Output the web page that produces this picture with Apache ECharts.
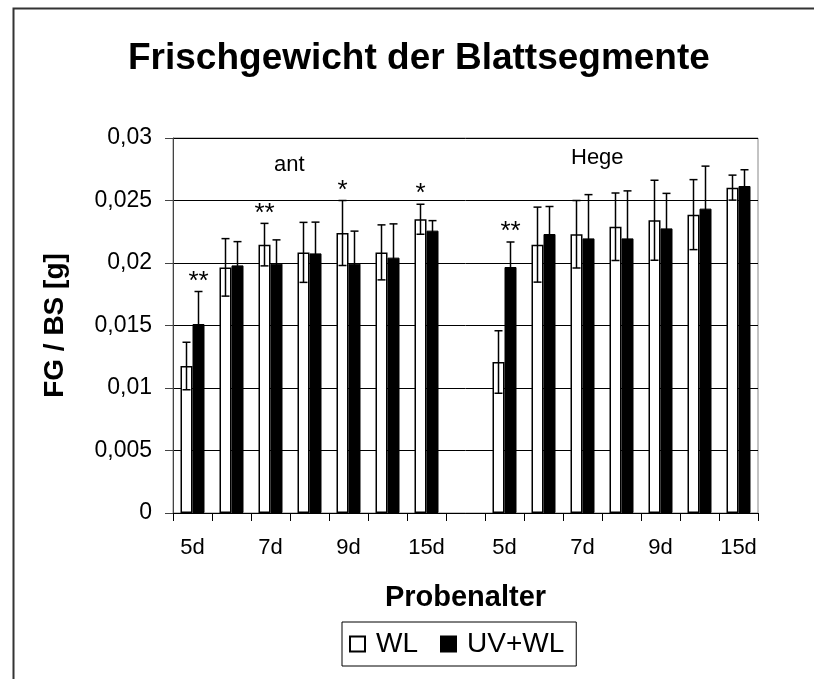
<!DOCTYPE html>
<html>
<head>
<meta charset="utf-8">
<script src="https://cdn.jsdelivr.net/npm/echarts@6/dist/echarts.min.js"></script>
<style>
html,body{margin:0;padding:0;background:#fff;}
#chart{width:814px;height:679px;}
</style>
</head>
<body>
<div id="chart"></div>
<script>
// ---- data ----
const categories = ['ant-1','ant-2','ant-3','ant-4','ant-5','ant-6','ant-7','gap','Hege-1','Hege-2','Hege-3','Hege-4','Hege-5','Hege-6','Hege-7'];
const tickLabels = ['5d','','7d','','9d','','15d','','5d','','7d','','9d','','15d'];
const wlMean = [0.01176, 0.01965, 0.02147, 0.02085, 0.0224, 0.02085, 0.0235, null, 0.01208, 0.02147, 0.0223, 0.0229, 0.02342, 0.02387, 0.02603];
const wlErr  = [0.0019, 0.0023, 0.0017, 0.0024, 0.0026, 0.0022, 0.0012, null, 0.0025, 0.0030, 0.0027, 0.0027, 0.0032, 0.0028, 0.0010];
const uvMean = [0.01512, 0.01981, 0.01995, 0.02077, 0.01995, 0.02043, 0.02259, null, 0.01968, 0.02232, 0.02197, 0.02197, 0.02277, 0.02435, 0.02616];
const uvErr  = [0.0026, 0.0019, 0.0019, 0.0025, 0.0026, 0.0027, 0.0008, null, 0.0020, 0.0022, 0.0035, 0.0038, 0.0028, 0.0034, 0.0013];
const sigWL  = ['', '', '**', '', '*', '', '*', '', '', '', '', '', '', '', ''];
const sigUV  = ['**', '', '', '', '', '', '', '', '**', '', '', '', '', '', ''];
const yTicks = { min: 0, max: 0.03, interval: 0.005 };
const groupNames = ['ant', 'Hege'];

// ---- styling constants ----
const FONT = 'Liberation Sans, Arial, sans-serif';
const BAR_W = 12;

function errSeries(name, mean, err, sig, offset) {
  return {
    type: 'custom',
    name: name + ' err',
    z: 5,
    silent: true,
    data: mean.map((m, i) => [i, m, err[i], sig[i]]),
    encode: { x: 0, y: 1 },
    renderItem: function (params, api) {
      const i = api.value(0);
      const m = api.value(1);
      const e = api.value(2);
      if (m == null || isNaN(m)) return;
      const top = api.coord([i, m + e]);
      const bot = api.coord([i, m - e]);
      const x = top[0] + offset;
      const half = 4;
      const style = { stroke: '#000', lineWidth: 1.5 };
      const children = [
        { type: 'line', shape: { x1: x, y1: top[1], x2: x, y2: bot[1] }, style: style },
        { type: 'line', shape: { x1: x - half, y1: top[1], x2: x + half, y2: top[1] }, style: style },
        { type: 'line', shape: { x1: x - half, y1: bot[1], x2: x + half, y2: bot[1] }, style: style }
      ];
      const s = sig[params.dataIndex];
      if (s) {
        children.push({
          type: 'text',
          style: {
            text: s, x: x, y: top[1] + 3,
            align: 'center', verticalAlign: 'bottom',
            font: '26px ' + FONT, fill: '#000'
          }
        });
      }
      return { type: 'group', children: children };
    }
  };
}

const chart = echarts.init(document.getElementById('chart'), null, { renderer: 'canvas' });
chart.setOption({
  backgroundColor: '#fff',
  animation: false,
  title: {
    text: 'Frischgewicht der Blattsegmente',
    left: 128,
    top: 35,
    padding: [5, 0, 5, 0],
    textStyle: { fontFamily: FONT, fontSize: 37, fontWeight: 'bold', color: '#000' }
  },
  legend: {
    left: 342,
    top: 622,
    padding: [8, 12, 8, 7],
    borderColor: '#000',
    borderWidth: 1,
    itemWidth: 15,
    itemHeight: 15,
    itemGap: 22,
    icon: 'rect',
    data: ['WL', 'UV+WL'],
    textStyle: { fontFamily: FONT, fontSize: 28, color: '#000', padding: [0, 0, 0, 6] }
  },
  grid: {
    left: 173, top: 138, right: 56, bottom: 166,
    show: true, borderColor: '#888', borderWidth: 1, backgroundColor: '#fff'
  },
  xAxis: {
    type: 'category',
    data: categories,
    name: 'Probenalter',
    nameLocation: 'middle',
    nameGap: 70,
    nameTextStyle: { fontFamily: FONT, fontSize: 29, fontWeight: 'bold', color: '#000' },
    axisLine: { lineStyle: { color: '#000', width: 1 } },
    axisTick: { show: true, interval: 0, length: 8, lineStyle: { color: '#000' } },
    axisLabel: {
      interval: 0, margin: 24,
      fontFamily: FONT, fontSize: 22, color: '#000',
      formatter: (v, i) => tickLabels[i]
    },
    splitLine: { show: false }
  },
  yAxis: {
    type: 'value',
    min: yTicks.min, max: yTicks.max, interval: yTicks.interval,
    name: 'FG / BS [g]',
    nameLocation: 'middle',
    nameGap: 104,
    nameMoveOverlap: false,
    nameTextStyle: { fontFamily: FONT, fontSize: 28, fontWeight: 'bold', color: '#000' },
    axisLine: { show: true, lineStyle: { color: '#444', width: 1 } },
    axisTick: { show: true, length: 8, lineStyle: { color: '#444' } },
    axisLabel: {
      margin: 21, fontFamily: FONT, fontSize: 23, color: '#000',
      formatter: v => String(Number(v.toFixed(4))).replace('.', ',')
    },
    splitLine: { show: true, lineStyle: { color: '#000', width: 1 } }
  },
  series: [
    {
      name: 'WL', type: 'bar', data: wlMean, barWidth: BAR_W, barGap: '0%',
      itemStyle: { color: '#fff', borderColor: '#000', borderWidth: 1.5 }
    },
    {
      name: 'UV+WL', type: 'bar', data: uvMean, barWidth: BAR_W, barGap: '0%',
      itemStyle: { color: '#000', borderColor: '#000', borderWidth: 1 }
    },
    errSeries('WL', wlMean, wlErr, sigWL, -BAR_W / 2),
    errSeries('UV+WL', uvMean, uvErr, sigUV, BAR_W / 2)
  ],
  graphic: [
    { type: 'rect', left: 11, top: 6, silent: true,
      shape: { width: 830, height: 700 },
      style: { fill: 'none', stroke: '#333', lineWidth: 2 } },
    { type: 'text', left: 274, top: 154, silent: true,
      style: { text: groupNames[0], font: '22px ' + FONT, fill: '#000' } },
    { type: 'text', left: 571, top: 147, silent: true,
      style: { text: groupNames[1], font: '22px ' + FONT, fill: '#000' } }
  ]
});
</script>
</body>
</html>
